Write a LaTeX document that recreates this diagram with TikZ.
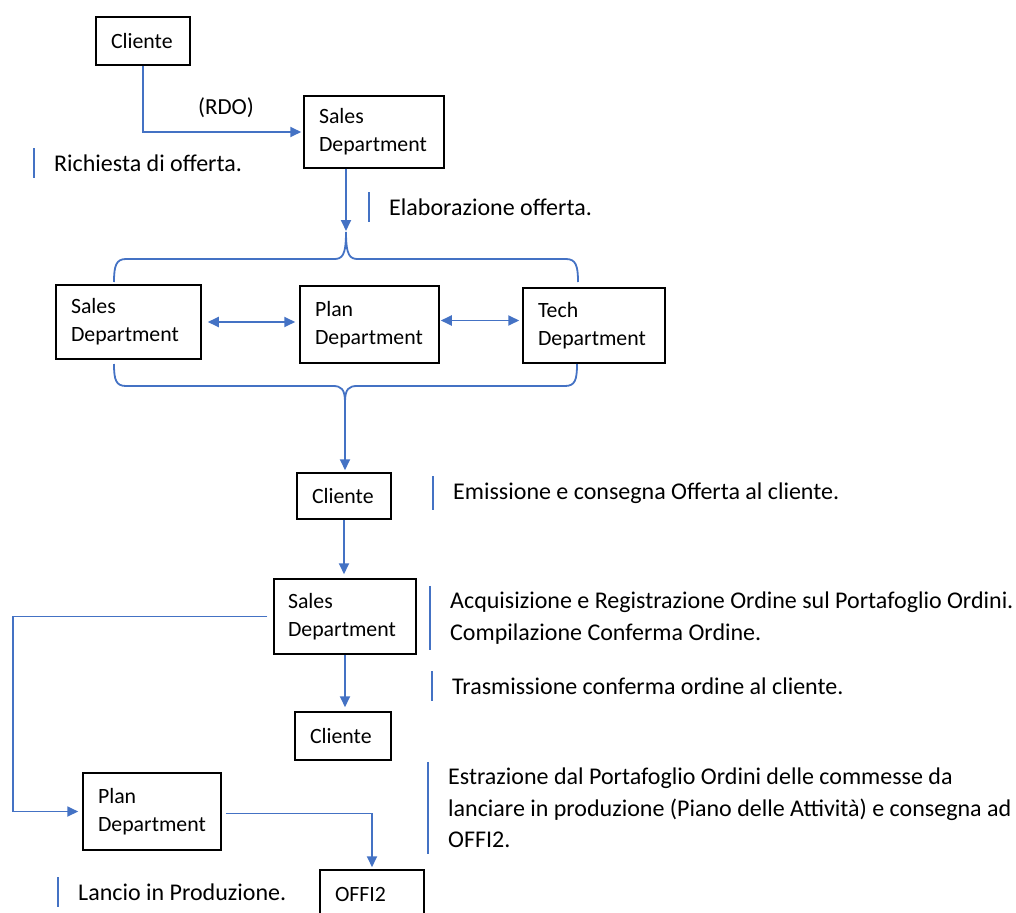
\documentclass[tikz,border=0pt]{standalone}
\usepackage{fontspec}
\setmainfont{Carlito}
\usetikzlibrary{arrows.meta}
\definecolor{wblue}{RGB}{68,114,196}
\begin{document}
\begin{tikzpicture}[x=1pt,y=-1pt,
  box/.style={draw=black,line width=1.5pt,align=left,inner xsep=15pt,inner ysep=0pt,
    font=\fontsize{21.8}{28}\selectfont},
  note/.style={anchor=west,align=left,inner xsep=0pt,inner ysep=6pt,
    font=\fontsize{24}{31.5}\selectfont},
  bar/.style={draw=wblue,line width=1.5pt},
  conn/.style={draw=wblue,line width=1.8pt,-{Triangle[length=11pt,width=10pt]}},
  dbl/.style={draw=wblue,line width=1.8pt,{Triangle[length=11pt,width=10pt]}-{Triangle[length=11pt,width=10pt]}},
  brace/.style={draw=wblue,line width=1.8pt}]
\useasboundingbox (0,0) rectangle (1016,912);

% boxes
\node[box,text width=64pt,minimum height=48pt] (c1) at (143,41) {Cliente};
\node[box,text width=110pt,minimum height=72pt] (s1) at (374,132) {Sales\\Department};
\node[box,text width=115pt,minimum height=74pt] (s2) at (128.5,322) {Sales\\Department};
\node[box,text width=109pt,minimum height=77pt] (p) at (369.5,324.5) {Plan\\Department};
\node[box,text width=112pt,minimum height=75pt] (t) at (594,325.5) {Tech\\Department};
\node[box,text width=64pt,minimum height=46pt] (c2) at (344,496) {Cliente};
\node[box,text width=114pt,minimum height=75pt,inner xsep=14pt] (s3) at (345,616.5) {Sales\\Department};
\node[box,text width=66pt,minimum height=48pt] (c3) at (343,736) {Cliente};
\node[box,text width=108pt,minimum height=77pt] (p2) at (152,811.5) {Plan\\Department};
\node[box,text width=74pt,minimum height=48pt] (o2) at (372,894) {OFFI2};

% brace tips
\coordinate (bt) at (346,232);
\coordinate (bb) at (345,402);
\coordinate (lx) at (13,0);

% braces
\draw[brace] (114,282) .. controls (114,266) and (116,259) .. (126,259) -- (334,259)
  .. controls (342,259) and (346,256) .. (bt)
  .. controls (346,256) and (350,259) .. (358,259) -- (566,259)
  .. controls (576,259) and (578,266) .. (578,282);
\draw[brace] (114,364) .. controls (114,380) and (116,386) .. (126,386) -- (333,386)
  .. controls (341,386) and (345,389) .. (bb)
  .. controls (345,389) and (349,386) .. (357,386) -- (565,386)
  .. controls (575,386) and (577,380) .. (577,364);

% connectors
\draw[conn,shorten >=2pt] (c1.south) |- (s1.west);
\node[font=\fontsize{23}{24}\selectfont,inner sep=0pt] (rdo) at (226,108) {(RDO)};
\draw[conn] (s1.south -| bt) -- ([yshift=1pt]bt);
\draw[dbl,shorten <=6pt,shorten >=4pt] (s2.east) -- (s2.east -| p.west);
\draw[dbl,shorten <=1pt,shorten >=3pt] ([yshift=4pt]p.east) -- ([yshift=4pt]p.east -| t.west);
\draw[conn,shorten >=2pt] (bb) -- (bb |- c2.north);
\draw[conn,shorten >=4pt] (c2.south) -- (c2.south |- s3.north);
\draw[conn,shorten >=4pt] (s3.south) -- (s3.south |- c3.north);
\draw[conn,shorten >=4pt] ([xshift=-6pt]s3.west) -- (s3.west -| lx) |- (p2.west);
\draw[conn,shorten >=2pt] ([xshift=4pt,yshift=-2pt]p2.east) -| (o2.north);

% notes
\node[note] (n1) at (54,163) {Richiesta di offerta.};
\node[note] (n2) at (389,207) {Elaborazione offerta.};
\node[note] (n3) at (453,493) {Emissione e consegna Offerta al cliente.};
\node[note] (n4) at (450,618) {Acquisizione e Registrazione Ordine sul Portafoglio Ordini.\\Compilazione Conferma Ordine.};
\node[note] (n5) at (452,686) {Trasmissione conferma ordine al cliente.};
\node[note] (n6) at (448,808) {Estrazione dal Portafoglio Ordini delle commesse da\\lanciare in produzione (Piano delle Attività) e consegna ad\\OFFI2.};
\node[note] (n7) at (78,892) {Lancio in Produzione.};
\foreach \n in {n1,n2,n3,n4,n5,n6,n7}
  \draw[bar] ([xshift=-20pt]\n.north west) -- ([xshift=-20pt]\n.south west);
\end{tikzpicture}
\end{document}
